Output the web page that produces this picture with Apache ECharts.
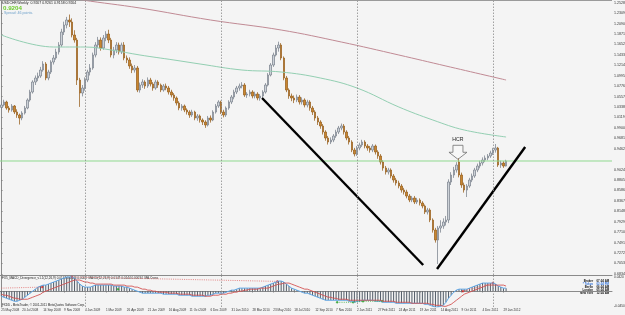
<!DOCTYPE html>
<html><head><meta charset="utf-8">
<script src="https://cdn.jsdelivr.net/npm/echarts@6/dist/echarts.min.js"></script>
<style>html,body{margin:0;padding:0;background:#f4f4f4}#c{width:625px;height:315px}</style>
</head><body><div id="c"></div>
<script>
// ---- DATA ----
const slotCount = 234; // weekly slots across the chart (last bars + chart shift)
const weekLabels = ['25 May 2008','20 Jul 2008','14 Sep 2008','9 Nov 2008','4 Jan 2009','1 Mar 2009','26 Apr 2009','21 Jun 2009','16 Aug 2009','11 Oct 2009','6 Dec 2009','31 Jan 2010','28 Mar 2010','23 May 2010','18 Jul 2010','12 Sep 2010','7 Nov 2010','2 Jan 2011','27 Feb 2011','24 Apr 2011','19 Jun 2011','14 Aug 2011','9 Oct 2011','4 Dec 2011','29 Jan 2012'];
const yearSeparators = [32, 84, 136, 188];
const priceTicks = [1.2528,1.2309,1.2090,1.1871,1.1652,1.1433,1.1214,1.0995,1.0776,1.0557,1.0338,1.0119,0.9900,0.9681,0.9462,0.9024,0.8805,0.8586,0.8367,0.8148,0.7929,0.7710,0.7491,0.7272,0.7053,0.6834];
const macdTicks = [0.0420, -0.0450];
const bidPrice = 0.9204;
const boxPrice = 0.9126;
// weekly USDCHF candles [open, close, low, high]
const ohlc = [
[1.0330,1.0380,1.0290,1.0440],[1.0380,1.0443,1.0350,1.0490],[1.0443,1.0317,1.0280,1.0470],[1.0317,1.0275,1.0220,1.0360],[1.0275,1.0359,1.0240,1.0400],
[1.0359,1.0233,1.0190,1.0380],[1.0233,1.0170,1.0110,1.0290],[1.0170,1.0107,0.9970,1.0200],[1.0107,1.0212,1.0060,1.0250],[1.0212,1.0317,1.0180,1.0360],
[1.0317,1.0485,1.0290,1.0520],[1.0485,1.0653,1.0450,1.0700],[1.0653,1.0863,1.0620,1.0900],[1.0863,1.0947,1.0800,1.1000],[1.0947,1.0989,1.0880,1.1060],
[1.0989,1.1115,1.0950,1.1180],[1.1115,1.1241,1.1080,1.1300],[1.1241,1.0947,1.0900,1.1280],[1.0947,1.1073,1.0900,1.1120],[1.1073,1.1283,1.1030,1.1320],
[1.1283,1.1367,1.1230,1.1430],[1.1367,1.1493,1.1330,1.1560],[1.1493,1.1640,1.1440,1.1700],[1.1640,1.1913,1.1600,1.1980],[1.1913,1.2060,1.1850,1.2130],
[1.2060,1.2165,1.1990,1.2230],[1.2165,1.2123,1.2020,1.2280],[1.2123,1.1850,1.1800,1.2200],[1.1850,1.1745,1.1690,1.1950],[1.1745,1.0905,1.0800,1.1790],
[1.0905,1.0632,1.0340,1.0950],[1.0632,1.0737,1.0560,1.0800],[1.0737,1.0905,1.0680,1.0960],[1.0905,1.1073,1.0860,1.1120],[1.1073,1.1157,1.1000,1.1240],
[1.1157,1.1430,1.1120,1.1480],[1.1430,1.1640,1.1380,1.1700],[1.1640,1.1745,1.1580,1.1810],[1.1745,1.1577,1.1520,1.1800],[1.1577,1.1787,1.1540,1.1850],
[1.1787,1.1871,1.1720,1.1930],[1.1871,1.1745,1.1680,1.1960],[1.1745,1.1430,1.1380,1.1790],[1.1430,1.1535,1.1360,1.1600],[1.1535,1.1640,1.1470,1.1700],
[1.1640,1.1493,1.1440,1.1690],[1.1493,1.1640,1.1450,1.1690],[1.1640,1.1367,1.1320,1.1700],[1.1367,1.1325,1.1260,1.1420],[1.1325,1.1199,1.1140,1.1380],
[1.1199,1.1115,1.1050,1.1250],[1.1115,1.1157,1.1060,1.1220],[1.1157,1.0695,1.0650,1.1200],[1.0695,1.0800,1.0640,1.0850],[1.0800,1.0863,1.0740,1.0920],
[1.0863,1.0779,1.0720,1.0900],[1.0779,1.0905,1.0740,1.0960],[1.0905,1.0821,1.0770,1.0950],[1.0821,1.0737,1.0680,1.0860],[1.0737,1.0863,1.0700,1.0910],
[1.0863,1.0800,1.0740,1.0900],[1.0800,1.0695,1.0650,1.0830],[1.0695,1.0779,1.0660,1.0820],[1.0779,1.0737,1.0690,1.0830],[1.0737,1.0653,1.0600,1.0780],
[1.0653,1.0590,1.0540,1.0700],[1.0590,1.0527,1.0470,1.0630],[1.0527,1.0422,1.0370,1.0560],[1.0422,1.0317,1.0270,1.0460],[1.0317,1.0359,1.0260,1.0400],
[1.0359,1.0275,1.0230,1.0390],[1.0275,1.0233,1.0180,1.0310],[1.0233,1.0170,1.0110,1.0270],[1.0170,1.0233,1.0130,1.0280],[1.0233,1.0107,1.0060,1.0260],
[1.0107,1.0149,1.0050,1.0190],[1.0149,1.0065,1.0010,1.0180],[1.0065,1.0023,0.9960,1.0100],[1.0023,0.9960,0.9900,1.0060],[0.9960,1.0107,0.9930,1.0150],
[1.0107,1.0065,1.0010,1.0160],[1.0065,1.0233,1.0040,1.0270],[1.0233,1.0359,1.0200,1.0400],[1.0359,1.0443,1.0320,1.0480],[1.0443,1.0233,1.0190,1.0470],
[1.0233,1.0170,1.0120,1.0280],[1.0170,1.0317,1.0130,1.0350],[1.0317,1.0443,1.0280,1.0480],[1.0443,1.0548,1.0400,1.0590],[1.0548,1.0653,1.0500,1.0700],
[1.0653,1.0737,1.0610,1.0780],[1.0737,1.0779,1.0680,1.0830],[1.0779,1.0800,1.0730,1.0860],[1.0800,1.0590,1.0550,1.0840],[1.0590,1.0610,1.0530,1.0650],
[1.0610,1.0653,1.0560,1.0700],[1.0653,1.0569,1.0520,1.0690],[1.0569,1.0611,1.0520,1.0660],[1.0611,1.0527,1.0480,1.0650],[1.0527,1.0569,1.0470,1.0610],
[1.0569,1.0653,1.0520,1.0690],[1.0653,1.0800,1.0620,1.0840],[1.0800,1.1010,1.0770,1.1050],[1.1010,1.1220,1.0980,1.1260],[1.1220,1.1430,1.1180,1.1480],
[1.1430,1.1577,1.1400,1.1640],[1.1577,1.1640,1.1500,1.1710],[1.1640,1.1367,1.1320,1.1680],[1.1367,1.0947,1.0900,1.1400],[1.0947,1.0695,1.0650,1.0990],
[1.0695,1.0569,1.0510,1.0730],[1.0569,1.0527,1.0460,1.0620],[1.0527,1.0485,1.0420,1.0580],[1.0485,1.0548,1.0440,1.0600],[1.0548,1.0443,1.0390,1.0590],
[1.0443,1.0485,1.0390,1.0540],[1.0485,1.0380,1.0330,1.0520],[1.0380,1.0443,1.0330,1.0490],[1.0443,1.0317,1.0260,1.0480],[1.0317,1.0233,1.0170,1.0360],
[1.0233,1.0107,1.0050,1.0270],[1.0107,1.0023,0.9960,1.0150],[1.0023,0.9939,0.9880,1.0060],[0.9939,0.9813,0.9760,0.9980],[0.9813,0.9687,0.9630,0.9850],
[0.9687,0.9603,0.9550,0.9730],[0.9603,0.9645,0.9560,0.9700],[0.9645,0.9729,0.9600,0.9770],[0.9729,0.9813,0.9690,0.9860],[0.9813,0.9897,0.9770,0.9940],
[0.9897,0.9939,0.9850,0.9990],[0.9939,0.9813,0.9760,0.9980],[0.9813,0.9687,0.9640,0.9850],[0.9687,0.9603,0.9550,0.9730],[0.9603,0.9435,0.9390,0.9640],
[0.9435,0.9351,0.9300,0.9480],[0.9351,0.9477,0.9310,0.9520],[0.9477,0.9540,0.9430,0.9590],[0.9540,0.9603,0.9500,0.9650],[0.9603,0.9519,0.9470,0.9640],
[0.9519,0.9477,0.9420,0.9560],[0.9477,0.9435,0.9380,0.9520],[0.9435,0.9519,0.9390,0.9560],[0.9519,0.9393,0.9340,0.9550],[0.9393,0.9309,0.9250,0.9430],
[0.9309,0.9183,0.9130,0.9350],[0.9183,0.9057,0.9000,0.9220],[0.9057,0.8973,0.8920,0.9100],[0.8973,0.9015,0.8920,0.9060],[0.9015,0.8889,0.8840,0.9050],
[0.8889,0.8805,0.8750,0.8930],[0.8805,0.8742,0.8690,0.8850],[0.8742,0.8679,0.8630,0.8790],[0.8679,0.8595,0.8540,0.8720],[0.8595,0.8553,0.8500,0.8640],
[0.8553,0.8469,0.8420,0.8600],[0.8469,0.8385,0.8340,0.8510],[0.8385,0.8427,0.8340,0.8470],[0.8427,0.8343,0.8300,0.8470],[0.8343,0.8385,0.8300,0.8430],
[0.8385,0.8322,0.8270,0.8420],[0.8322,0.8259,0.8210,0.8360],[0.8259,0.8133,0.8090,0.8290],[0.8133,0.8175,0.8080,0.8220],[0.8175,0.7965,0.7920,0.8210],
[0.7965,0.7755,0.7700,0.8000],[0.7755,0.7545,0.7490,0.7800],[0.7545,0.7797,0.7041,0.7840],[0.7797,0.7839,0.7700,0.7960],[0.7839,0.7923,0.7780,0.8000],
[0.7923,0.7965,0.7850,0.8050],[0.7965,0.8763,0.7900,0.8820],[0.8763,0.8910,0.8700,0.8970],[0.8910,0.9015,0.8850,0.9080],[0.9015,0.9120,0.8960,0.9180],
[0.9183,0.8910,0.8860,0.9267],[0.8910,0.8700,0.8640,0.8960],[0.8700,0.8595,0.8540,0.8750],[0.8595,0.8679,0.8448,0.8720],[0.8679,0.8805,0.8640,0.8850],
[0.8805,0.8889,0.8760,0.8940],[0.8889,0.9015,0.8850,0.9060],[0.9015,0.9099,0.8970,0.9150],[0.9099,0.9162,0.9050,0.9210],[0.9162,0.9225,0.9110,0.9280],
[0.9225,0.9267,0.9180,0.9320],[0.9267,0.9309,0.9220,0.9350],[0.9309,0.9372,0.9270,0.9420],[0.9372,0.9435,0.9330,0.9480],[0.9435,0.9477,0.9380,0.9561],
[0.9477,0.9120,0.9080,0.9500],[0.9120,0.9162,0.9060,0.9210],[0.9162,0.9099,0.9060,0.9200],[0.9099,0.9204,0.9090,0.9230]
];
// moving averages [week index, price]
const maSlow = [[0,1.2858],[31,1.2585],[53,1.2417],[80,1.2165],[107,1.1955],[130,1.1703],[152,1.1430],[170,1.1199],[193,1.0905]];
const maFast = [[0,1.1850],[20,1.1598],[32,1.1598],[42,1.1535],[53,1.1430],[66,1.1325],[76,1.1241],[92,1.1115],[107,1.1073],[122,1.0947],[136,1.0737],[152,1.0338],[165,1.0065],[177,0.9855],[193,0.9708]];
// horizontal bid line spans the whole window [week index, price]
const bidLine = [[-0.5, bidPrice], [slotCount - 0.5, bidPrice]];
// hand-drawn trend lines [week index, price]
const trendDown = [[99.7,1.0527],[161.3,0.7020]];
const trendUp = [[166.6,0.6936],[200.3,0.9498]];
const hcrArrow = [174.6, 0.9387];
const hcrText = [174.6, 0.9655];
// MACD(12,26,9) main + signal
const macd = [
-0.015,-0.018,-0.021,-0.024,-0.027,-0.030,-0.030,-0.027,-0.024,-0.018,
-0.012,-0.006,0.000,0.006,0.012,0.015,0.018,0.018,0.021,0.024,
0.027,0.030,0.033,0.036,0.039,0.042,0.042,0.042,0.039,0.030,
0.021,0.015,0.012,0.012,0.012,0.015,0.018,0.018,0.018,0.018,
0.018,0.018,0.018,0.015,0.015,0.015,0.015,0.012,0.012,0.009,
0.006,0.003,0.000,-0.003,-0.006,-0.006,-0.006,-0.006,-0.006,-0.006,
-0.006,-0.006,-0.009,-0.009,-0.009,-0.009,-0.009,-0.009,-0.012,-0.012,
-0.012,-0.012,-0.012,-0.015,-0.015,-0.015,-0.015,-0.015,-0.015,-0.012,
-0.012,-0.009,-0.006,-0.006,-0.006,-0.006,-0.003,0.000,0.003,0.003,
0.006,0.009,0.009,0.009,0.009,0.009,0.009,0.009,0.009,0.009,
0.012,0.015,0.018,0.021,0.024,0.027,0.030,0.030,0.027,0.021,
0.015,0.009,0.006,0.003,0.000,-0.003,-0.006,-0.006,-0.009,-0.012,
-0.015,-0.018,-0.021,-0.024,-0.027,-0.027,-0.027,-0.027,-0.027,-0.027,
-0.027,-0.027,-0.027,-0.030,-0.030,-0.033,-0.030,-0.030,-0.027,-0.027,
-0.027,-0.027,-0.027,-0.030,-0.030,-0.030,-0.033,-0.033,-0.033,-0.033,
-0.033,-0.036,-0.036,-0.036,-0.036,-0.036,-0.036,-0.036,-0.036,-0.036,
-0.036,-0.036,-0.039,-0.039,-0.042,-0.045,-0.047,-0.047,-0.045,-0.042,
-0.033,-0.021,-0.012,-0.003,0.003,0.006,0.006,0.006,0.006,0.009,
0.012,0.015,0.018,0.021,0.024,0.024,0.024,0.024,0.024,0.021,
0.015,0.012,0.009,0.009
];
const signal = [
-0.009,-0.012,-0.012,-0.015,-0.018,-0.021,-0.021,-0.024,-0.024,-0.024,
-0.024,-0.021,-0.018,-0.015,-0.012,-0.009,-0.003,0.000,0.003,0.006,
0.009,0.012,0.015,0.018,0.021,0.024,0.027,0.030,0.033,0.033,
0.033,0.030,0.027,0.027,0.024,0.024,0.021,0.021,0.021,0.021,
0.021,0.021,0.021,0.018,0.018,0.018,0.018,0.018,0.015,0.015,
0.015,0.012,0.012,0.009,0.006,0.006,0.003,0.003,0.000,0.000,
-0.003,-0.003,-0.003,-0.003,-0.006,-0.006,-0.006,-0.006,-0.009,-0.009,
-0.009,-0.009,-0.009,-0.012,-0.012,-0.012,-0.012,-0.012,-0.015,-0.015,
-0.015,-0.012,-0.012,-0.012,-0.009,-0.009,-0.009,-0.006,-0.006,-0.003,
-0.003,0.000,0.000,0.003,0.003,0.006,0.006,0.006,0.006,0.009,
0.009,0.009,0.009,0.012,0.015,0.018,0.021,0.021,0.024,0.024,
0.024,0.021,0.018,0.015,0.012,0.009,0.006,0.006,0.003,0.000,
-0.003,-0.006,-0.009,-0.012,-0.015,-0.018,-0.018,-0.021,-0.021,-0.024,
-0.024,-0.024,-0.024,-0.027,-0.027,-0.027,-0.027,-0.027,-0.027,-0.027,
-0.027,-0.027,-0.027,-0.027,-0.027,-0.027,-0.030,-0.030,-0.030,-0.030,
-0.030,-0.033,-0.033,-0.033,-0.033,-0.033,-0.033,-0.036,-0.036,-0.036,
-0.036,-0.036,-0.036,-0.036,-0.039,-0.039,-0.042,-0.042,-0.042,-0.045,
-0.045,-0.042,-0.039,-0.033,-0.027,-0.021,-0.015,-0.009,-0.006,-0.003,
0.000,0.003,0.006,0.009,0.012,0.015,0.018,0.018,0.018,0.018,
0.018,0.018,0.018,0.015
];
// divergence marks in the MACD pane [week index, value]
const divRedA = [[0,0.009],[15.6,0.012]];
const divRedB = [[27,0.042],[105.5,0.029]];
const divRedC = [[176.5,0.000],[188,0.024]];
const divRedPts = [[15.6,0.012],[27,0.042],[105.5,0.029],[176.5,0.000],[188,0.024]];
const divGreen = [[128.4,-0.033],[134.5,-0.033],[138.3,-0.030],[145.6,-0.030]];
const divGreenPts = [[44.6,0.006],[128.4,-0.033],[134.5,-0.033],[138.3,-0.030],[145.6,-0.030]];
const clockRows = [['Broker','07:24 AM','#111'],['* Tokyo','02:24 PM','#2f6fd6'],['Berlin','06:24 AM','#111'],['London','05:24 AM','#111'],['New York','12:24 AM','#111']];

// ---- CHART ----
const FONT = 'Liberation Sans, Arial, sans-serif';
const weeks = Array.from({length: slotCount}, (_, i) => i);
const isLabel = (idx) => idx % 8 === 0 && idx / 8 < weekLabels.length;
const chart = echarts.init(document.getElementById('c'), null, {renderer: 'canvas'});
const sepMarkLine = {silent: true, symbol: 'none', animation: false,
  lineStyle: {color: '#8c8c8c', type: [1.5, 1.5], width: 0.8}, label: {show: false},
  data: yearSeparators.map(v => ({xAxis: v}))};

const graphics = [
  {type: 'line', shape: {x1: 0, y1: 0.5, x2: 612, y2: 0.5}, style: {stroke: '#9a9a9a', lineWidth: 1}, silent: true},
  {type: 'text', x: 2, y: 1.3, style: {text: 'USDCHF,Weekly  0.9207 0.9261 0.9158 0.9204', font: '3.5px ' + FONT, fill: '#222'}},
  {type: 'text', x: 3, y: 5, style: {text: '0.9204', font: 'bold 6.2px ' + FONT, fill: '#6ccb2c'}},
  {type: 'text', x: 4, y: 11.3, style: {text: 'Spread: 46 points.', font: '3.6px ' + FONT, fill: '#6b9fc9'}},
  {type: 'text', x: 2, y: 276.8, style: {text: 'FX5_MACD_Divergence_v1.1(12,26,9) 0.0147 0.0144 0.0003  MACD(12,26,9) 0.0147 0.0144 0.00034  MA Cross', font: '3.1px ' + FONT, fill: '#222'}},
  {type: 'text', x: 2, y: 303.2, style: {text: 'FXDD - MetaTrader, \u00a9 2001-2011 MetaQuotes Software Corp.', font: '3px ' + FONT, fill: '#222'}}
];
clockRows.forEach((r, k) => {
  const y = 279.5 + k * 3;
  graphics.push({type: 'text', x: 593, y: y, style: {text: r[0], font: 'bold 2.9px ' + FONT, fill: r[2], align: 'right'}});
  graphics.push({type: 'text', x: 596.5, y: y, style: {text: r[1], font: 'bold 2.9px ' + FONT, fill: r[2], align: 'left'}});
});

const boxLabel = (text, bg, fg) => ({show: true, position: 'end', distance: 0.5, formatter: text, backgroundColor: bg, color: fg,
  fontSize: 3.6, fontFamily: FONT, padding: [0.6, 1.2]});

const option = {
  animation: false,
  backgroundColor: '#f4f4f4',
  grid: [
    {left: 0, right: 13, top: 1, height: 274, outerBoundsMode: 'none', containLabel: false},
    {left: 0, right: 13, top: 276, height: 31, outerBoundsMode: 'none', containLabel: false}
  ],
  xAxis: [
    {type: 'category', gridIndex: 0, data: weeks, boundaryGap: true,
     axisLine: {show: true, lineStyle: {color: '#8a8a8a', width: 1}}, axisTick: {show: false}, axisLabel: {show: false}, splitLine: {show: false}},
    {type: 'category', gridIndex: 1, data: weeks, boundaryGap: true,
     axisLine: {show: true, lineStyle: {color: '#8a8a8a', width: 1}},
     axisTick: {show: true, interval: isLabel, alignWithLabel: true, length: 1.5, lineStyle: {color: '#777', width: 0.6}},
     axisLabel: {show: true, interval: isLabel, formatter: (v, idx) => weekLabels[idx / 8] || '', align: 'left', margin: 1.2,
       fontSize: 3.1, fontFamily: FONT, color: '#333'},
     splitLine: {show: false}},
    {type: 'value', gridIndex: 0, min: -0.5, max: slotCount - 0.5, show: false},
    {type: 'value', gridIndex: 1, min: -0.5, max: slotCount - 0.5, show: false}
  ],
  yAxis: [
    {type: 'value', gridIndex: 0, position: 'right', min: 0.6810, max: 1.2564, scale: true,
     axisLine: {show: true, lineStyle: {color: '#8a8a8a', width: 1}},
     axisTick: {show: true, customValues: priceTicks, length: 1.5, lineStyle: {color: '#777', width: 0.6}},
     axisLabel: {show: true, customValues: priceTicks, formatter: v => v.toFixed(4), margin: 2, fontSize: 3.6, fontFamily: FONT, color: '#333'},
     splitLine: {show: false}},
    {type: 'value', gridIndex: 1, position: 'right', min: -0.047, max: 0.045,
     axisLine: {show: true, lineStyle: {color: '#8a8a8a', width: 1}},
     axisTick: {show: true, customValues: macdTicks, length: 1.5, lineStyle: {color: '#777', width: 0.6}},
     axisLabel: {show: true, customValues: macdTicks, formatter: v => v.toFixed(4), margin: 2, fontSize: 3.2, fontFamily: FONT, color: '#333'},
     splitLine: {show: false}}
  ],
  series: [
    {type: 'line', xAxisIndex: 2, yAxisIndex: 0, data: maSlow, smooth: 0.4, symbol: 'none', lineStyle: {color: '#c08a94', width: 1},
     markLine: sepMarkLine},
    {type: 'line', xAxisIndex: 2, yAxisIndex: 0, data: maFast, smooth: 0.4, symbol: 'none', lineStyle: {color: '#93cfb2', width: 1}},
    {type: 'line', xAxisIndex: 2, yAxisIndex: 0, data: bidLine, symbol: 'none', color: '#8fd98f', lineStyle: {color: '#8fd98f', width: 1},
     markLine: {silent: true, symbol: 'none', animation: false, lineStyle: {opacity: 0},
       data: [
         {yAxis: boxPrice, label: boxLabel(boxPrice.toFixed(4), '#111', '#fff')},
         {yAxis: bidPrice, label: boxLabel(bidPrice.toFixed(4), '#3fbf3f', '#000')}
       ]}},
    {type: 'candlestick', xAxisIndex: 0, yAxisIndex: 0, data: ohlc, barWidth: 1.9,
     itemStyle: {color: '#cdd2d8', color0: '#c8862f', borderColor: '#7b838d', borderColor0: '#98601f', borderWidth: 0.75}},
    {type: 'line', xAxisIndex: 2, yAxisIndex: 0, data: trendDown, symbol: 'none', lineStyle: {color: '#000', width: 2.4}},
    {type: 'line', xAxisIndex: 2, yAxisIndex: 0, data: trendUp, symbol: 'none', lineStyle: {color: '#000', width: 2.4},
     markPoint: {silent: true, animation: false, data: [
       {coord: hcrArrow, symbol: 'path://M4,0 L14,0 L14,7 L18,7 L9,14 L0,7 L4,7 Z', symbolSize: [18, 14],
        itemStyle: {color: 'rgba(255,255,255,0.25)', borderColor: '#707070', borderWidth: 0.8}, label: {show: false}},
       {coord: hcrText, symbol: 'circle', symbolSize: 0.01, itemStyle: {color: 'rgba(0,0,0,0)'},
        label: {show: true, position: 'inside', formatter: 'HCR', color: '#222', fontSize: 5.2, fontFamily: FONT}}
     ]}},
    {type: 'bar', xAxisIndex: 1, yAxisIndex: 1, data: macd, barWidth: 0.9, itemStyle: {color: '#525c68'},
     markLine: sepMarkLine},
    {type: 'line', xAxisIndex: 1, yAxisIndex: 1, data: macd, symbol: 'none', lineStyle: {color: '#5ea6e6', width: 1}},
    {type: 'line', xAxisIndex: 1, yAxisIndex: 1, data: signal, symbol: 'none', lineStyle: {color: '#d45252', width: 0.9}},
    {type: 'line', xAxisIndex: 3, yAxisIndex: 1, data: divRedA, symbol: 'none', lineStyle: {color: '#e06a6a', width: 0.8, type: [1, 1.2]}},
    {type: 'line', xAxisIndex: 3, yAxisIndex: 1, data: divRedB, symbol: 'none', lineStyle: {color: '#e06a6a', width: 0.8, type: [1, 1.2]}},
    {type: 'line', xAxisIndex: 3, yAxisIndex: 1, data: divRedC, symbol: 'none', lineStyle: {color: '#e06a6a', width: 0.8, type: [1, 1.2]}},
    {type: 'line', xAxisIndex: 3, yAxisIndex: 1, data: divGreen, symbol: 'none', lineStyle: {color: '#3aa83a', width: 0.8, type: [1, 1.2]}},
    {type: 'scatter', xAxisIndex: 3, yAxisIndex: 1, data: divRedPts, symbol: 'diamond', symbolSize: 3, itemStyle: {color: '#d01818'}},
    {type: 'scatter', xAxisIndex: 3, yAxisIndex: 1, data: divGreenPts, symbol: 'diamond', symbolSize: 3, itemStyle: {color: '#1f9a1f'}}
  ],
  graphic: graphics
};
chart.setOption(option);
</script>
</body></html>
